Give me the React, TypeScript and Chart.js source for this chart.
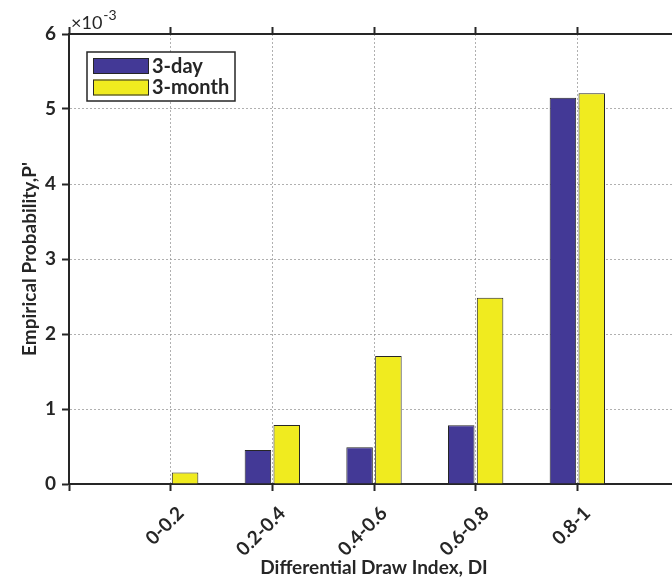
import React, { useEffect, useRef } from 'react';
import { Chart, registerables } from 'chart.js';

Chart.register(...registerables);

// ---- data ----
const categories = ['0-0.2', '0.2-0.4', '0.4-0.6', '0.6-0.8', '0.8-1'];
const seriesNames = ['3-day', '3-month'];
const threeDay = [0, 0.000453, 0.00049, 0.000783, 0.00515];
const threeMonth = [0.000155, 0.000787, 0.001707, 0.002484, 0.00521];
const yTickValues = [0, 0.001, 0.002, 0.003, 0.004, 0.005, 0.006];
const exponentBase = '×10';
const exponentPower = '-3';
const xTitle = 'Differential Draw Index, DI';
const yTitle = "Empirical Probability,P'";

const seriesColors = ['#433996', '#f0eb1f'];
const ink = '#262626';
const FONT = 'Lato';

// padded category axis so that positions run 0..6 like the original
const xLabels = ['', ...categories, ''];
const pad = (arr: number[]) => [null, ...arr, null];

const boxLegendPlugin = {
  id: 'boxLegend',
  afterDraw(chart: any) {
    const { ctx, chartArea } = chart;
    const x = chartArea.left + 18;
    const y = chartArea.top + 18;
    const w = 148;
    const h = 49;
    ctx.save();
    ctx.fillStyle = '#ffffff';
    ctx.fillRect(x, y, w, h);
    ctx.strokeStyle = ink;
    ctx.lineWidth = 1.5;
    ctx.strokeRect(x, y, w, h);
    chart.data.datasets.forEach((ds: any, i: number) => {
      const sy = y + 6 + i * 21.5;
      ctx.fillStyle = ds.backgroundColor;
      ctx.fillRect(x + 6, sy, 56, 16);
      ctx.strokeStyle = ink;
      ctx.lineWidth = 1;
      ctx.strokeRect(x + 6.5, sy + 0.5, 55, 15);
      ctx.fillStyle = ink;
      ctx.font = `bold 20px ${FONT}`;
      ctx.textBaseline = 'middle';
      ctx.textAlign = 'left';
      ctx.fillText(ds.label, x + 65, sy + 8.5);
    });
    ctx.restore();
  },
};

const exponentPlugin = {
  id: 'exponentLabel',
  afterDraw(chart: any) {
    const { ctx, chartArea } = chart;
    ctx.save();
    ctx.fillStyle = ink;
    ctx.textBaseline = 'alphabetic';
    ctx.textAlign = 'left';
    ctx.font = `18px ${FONT}`;
    const bx = chartArea.left + 2;
    ctx.fillText(exponentBase, bx, chartArea.top - 5);
    const bw = ctx.measureText(exponentBase).width;
    ctx.font = `14px ${FONT}`;
    ctx.fillText(exponentPower, bx + bw + 1, chartArea.top - 14);
    ctx.restore();
  },
};

export default function App() {
  const ref = useRef<HTMLCanvasElement | null>(null);

  useEffect(() => {
    if (!ref.current) return;
    const chart = new Chart(ref.current, {
      type: 'bar',
      data: {
        labels: xLabels,
        datasets: [
          {
            label: seriesNames[0],
            data: pad(threeDay) as any,
            backgroundColor: seriesColors[0],
            borderColor: ink,
            borderWidth: 1,
            categoryPercentage: 0.567,
            barPercentage: 0.92,
          },
          {
            label: seriesNames[1],
            data: pad(threeMonth) as any,
            backgroundColor: seriesColors[1],
            borderColor: ink,
            borderWidth: 1,
            categoryPercentage: 0.567,
            barPercentage: 0.92,
          },
        ],
      },
      options: {
        responsive: false,
        animation: false,
        layout: { padding: { top: 27, right: 11, left: 0, bottom: 0 } },
        plugins: {
          legend: { display: false },
          tooltip: { enabled: false },
        },
        scales: {
          x: {
            type: 'category',
            offset: false,
            grid: {
              offset: false,
              color: 'rgba(150,150,150,0.75)',
              lineWidth: 1,
              tickLength: 7,
              tickColor: ink,
              tickWidth: 2,
            },
            border: { color: ink, width: 2, dash: [2, 2] },
            ticks: {
              autoSkip: false,
              maxRotation: 45,
              minRotation: 45,
              color: ink,
              padding: 11,
              labelOffset: 10,
              font: { family: FONT, weight: 'bold', size: 19 },
            },
            title: {
              display: true,
              text: xTitle,
              color: ink,
              font: { family: FONT, weight: 'bold', size: 19 },
              padding: { top: 0, bottom: 0 },
            },
            afterFit: (s: any) => {
              s.height = 95;
              s.paddingLeft = 0;
              s.paddingRight = 0;
            },
          },
          x2: {
            type: 'category',
            position: 'top',
            labels: xLabels,
            offset: false,
            grid: {
              offset: false,
              drawOnChartArea: false,
              tickLength: 7,
              tickColor: ink,
              tickWidth: 2,
            },
            border: { color: ink, width: 2 },
            ticks: { display: false },
            afterFit: (s: any) => {
              s.paddingLeft = 0;
              s.paddingRight = 0;
            },
          },
          y: {
            min: 0,
            max: 0.006,
            afterBuildTicks: (s: any) => {
              s.ticks = yTickValues.map((v) => ({ value: v }));
            },
            ticks: {
              color: ink,
              padding: 6,
              font: { family: FONT, weight: 'bold', size: 19 },
              callback: (v: any) => String(Math.round(Number(v) * 1000)),
            },
            grid: {
              color: 'rgba(150,150,150,0.75)',
              lineWidth: 1,
              tickLength: 7,
              tickColor: ink,
              tickWidth: 2,
            },
            border: { color: ink, width: 2, dash: [2, 2] },
            title: {
              display: true,
              text: yTitle,
              color: ink,
              font: { family: FONT, weight: 'bold', size: 19 },
              padding: { top: 18, bottom: 0 },
            },
            afterFit: (s: any) => {
              s.width = 69;
            },
          },
        },
      },
      plugins: [boxLegendPlugin, exponentPlugin],
    } as any);
    return () => chart.destroy();
  }, []);

  return (
    <div
      style={{
        position: 'fixed',
        left: 0,
        top: 0,
        width: 672,
        height: 579,
        overflow: 'hidden',
        background: '#ffffff',
      }}
    >
      <canvas ref={ref} width={690} height={579} style={{ display: 'block' }} />
    </div>
  );
}
